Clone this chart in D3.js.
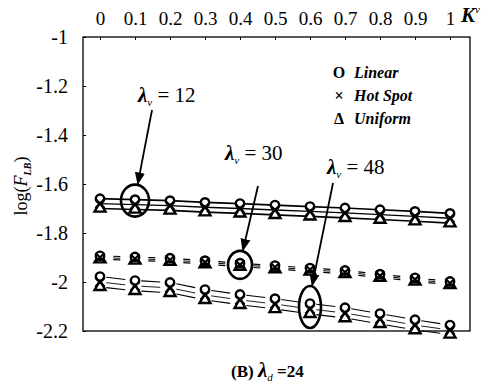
<!DOCTYPE html>
<html>
<head>
<meta charset="utf-8">
<script src="https://cdn.jsdelivr.net/npm/d3@7/dist/d3.min.js"></script>
<style>
  body { margin: 0; background: #fff; }
  svg text { font-family: "Liberation Serif", "DejaVu Serif", serif !important; fill: #000; }
</style>
</head>
<body>
<div id="chart"></div>
<script>
// K^v values (x) and tick labels
const kv = [0, 0.1, 0.2, 0.3, 0.4, 0.5, 0.6, 0.7, 0.8, 0.9, 1];
const xTickLabels = ['0', '0.1', '0.2', '0.3', '0.4', '0.5', '0.6', '0.7', '0.8', '0.9', '1'];
const yTicks = [-1, -1.2, -1.4, -1.6, -1.8, -2, -2.2];

// log(F_LB) for each lambda_v group, three heat flux types
const lam12Linear  = [-1.660, -1.664, -1.668, -1.675, -1.680, -1.686, -1.692, -1.698, -1.705, -1.712, -1.720];
const lam12HotSpot = [-1.680, -1.684, -1.688, -1.695, -1.700, -1.706, -1.712, -1.718, -1.725, -1.732, -1.740];
const lam12Uniform = [-1.700, -1.704, -1.708, -1.715, -1.720, -1.726, -1.732, -1.738, -1.745, -1.752, -1.760];

const lam30Linear  = [-1.893, -1.898, -1.903, -1.913, -1.923, -1.933, -1.943, -1.953, -1.968, -1.983, -1.998];
const lam30HotSpot = [-1.900, -1.905, -1.910, -1.920, -1.930, -1.940, -1.950, -1.960, -1.975, -1.990, -2.005];
const lam30Uniform = [-1.907, -1.912, -1.917, -1.927, -1.937, -1.947, -1.957, -1.967, -1.982, -1.997, -2.012];

const lam48Linear  = [-1.978, -1.994, -2.002, -2.031, -2.051, -2.068, -2.088, -2.105, -2.129, -2.154, -2.176];
const lam48HotSpot = [-2.000, -2.016, -2.024, -2.053, -2.073, -2.090, -2.110, -2.127, -2.151, -2.176, -2.196];
const lam48Uniform = [-2.020, -2.036, -2.044, -2.073, -2.093, -2.110, -2.130, -2.147, -2.171, -2.196, -2.214];

const width = 503, height = 390;
const box = { left: 83, right: 470, top: 37, bottom: 331 };
const serif = '"Liberation Serif", "DejaVu Serif", serif';

const svg = d3.select('#chart').append('svg')
  .attr('width', width)
  .attr('height', height);

const x = d3.scaleLinear().domain([0, 1]).range([100, 450]);
const y = d3.scaleLinear().domain([-2.2, -1]).range([box.bottom, box.top]);

// frame
svg.append('rect')
  .attr('x', box.left).attr('y', box.top)
  .attr('width', box.right - box.left).attr('height', box.bottom - box.top)
  .attr('fill', 'none').attr('stroke', '#000').attr('stroke-width', 1.3);

// top axis (ticks inward, labels above)
const topAxis = d3.axisTop(x).tickValues(kv)
  .tickFormat((d, i) => xTickLabels[i]).tickSizeInner(-3).tickSizeOuter(0).tickPadding(12);
const gTop = svg.append('g').attr('transform', `translate(0,${box.top})`).call(topAxis);
gTop.attr('font-family', serif);
gTop.select('.domain').remove();
gTop.selectAll('text').attr('font-size', 19).attr('fill', '#000').style('font-family', serif);

const kl = svg.append('text').attr('x', 461).attr('y', 22);
kl.append('tspan').attr('font-size', 21).attr('font-weight', 'bold').attr('font-style', 'italic').text('K');
kl.append('tspan').attr('font-size', 11).attr('font-style', 'italic').attr('dy', -9).text('v');

// left axis
const leftAxis = d3.axisLeft(y).tickValues(yTicks)
  .tickFormat(d => d3.format('')(d).replace('−', '-'))
  .tickSizeInner(-3).tickSizeOuter(0).tickPadding(15);
const gLeft = svg.append('g').attr('transform', `translate(${box.left},0)`).call(leftAxis);
gLeft.attr('font-family', serif);
gLeft.select('.domain').remove();
gLeft.selectAll('text').attr('font-size', 20).attr('fill', '#000').style('font-family', serif);

// y label
const yl = svg.append('text')
  .attr('transform', `translate(27,186) rotate(-90)`)
  .attr('text-anchor', 'middle').attr('font-size', 18);
yl.append('tspan').text('log(');
yl.append('tspan').attr('font-style', 'italic').text('F');
yl.append('tspan').attr('font-size', 10).attr('font-style', 'italic').attr('font-weight', 'bold').attr('dy', 4).text('LB');
yl.append('tspan').attr('dy', -4).text(')');

// connecting lines; frac gives the part of each interval that is drawn
function drawLines(vals, frac, sw) {
  for (let i = 0; i < kv.length - 1; i++) {
    const x0 = x(kv[i]), x1 = x(kv[i + 1]);
    const y0 = y(vals[i]), y1 = y(vals[i + 1]);
    svg.append('line')
      .attr('x1', x0 + (x1 - x0) * frac[0]).attr('y1', y0 + (y1 - y0) * frac[0])
      .attr('x2', x0 + (x1 - x0) * frac[1]).attr('y2', y0 + (y1 - y0) * frac[1])
      .attr('stroke', '#000').attr('stroke-width', sw);
  }
}

const groups = [
  { lin: lam12Linear, hot: lam12HotSpot, uni: lam12Uniform, frac: [0, 1], sw: 1.7 },
  { lin: lam30Linear, hot: lam30HotSpot, uni: lam30Uniform, frac: [0.38, 0.58], sw: 1.2 },
  { lin: lam48Linear, hot: lam48HotSpot, uni: lam48Uniform, frac: [0.18, 0.72], sw: 1.1 }
];

groups.forEach(g => {
  drawLines(g.lin, g.frac, g.sw);
  drawLines(g.hot, g.frac, g.sw * 0.8);
  drawLines(g.uni, g.frac, g.sw);
});

// markers
const triPath = d3.symbol().type(d3.symbolTriangle).size(52)();
groups.forEach(g => {
  svg.append('g').selectAll('path').data(kv).join('path')
    .attr('d', triPath)
    .attr('transform', (d, i) => `translate(${x(d)},${y(g.uni[i])})`)
    .attr('fill', '#fff').attr('stroke', '#000').attr('stroke-width', 2.4);
  svg.append('g').selectAll('circle').data(kv).join('circle')
    .attr('cx', d => x(d)).attr('cy', (d, i) => y(g.lin[i])).attr('r', 4.2)
    .attr('fill', '#fff').attr('stroke', '#000').attr('stroke-width', 2.4);
  svg.append('g').selectAll('path').data(kv).join('path')
    .attr('d', (d, i) => {
      const cx = x(d), cy = y(g.hot[i]), s = 4.5;
      return `M${cx - s},${cy - s}L${cx + s},${cy + s}M${cx - s},${cy + s}L${cx + s},${cy - s}`;
    })
    .attr('stroke', '#000').attr('stroke-width', 2.2);
});

// annotations: ellipses, labels and arrows
const notes = [
  { idx: 1, vals: lam12HotSpot, rx: 14, ry: 16, dy: -4, label: '12', lx: 138, ly: 102, from: [152, 110] },
  { idx: 4, vals: lam30HotSpot, rx: 12, ry: 14, dy: 0, label: '30', lx: 225, ly: 160, from: [258, 186] },
  { idx: 6, vals: lam48HotSpot, rx: 11, ry: 21, dy: -2, label: '48', lx: 327, ly: 174, from: [333, 183] }
];

svg.append('defs').append('marker')
  .attr('id', 'ah').attr('viewBox', '0 0 10 10').attr('refX', 9).attr('refY', 5)
  .attr('markerWidth', 7).attr('markerHeight', 7).attr('orient', 'auto')
  .append('path').attr('d', 'M0,1L10,5L0,9Z').attr('fill', '#000');

notes.forEach(n => {
  const cx = x(kv[n.idx]), cy = y(n.vals[n.idx]) + n.dy;
  svg.append('ellipse')
    .attr('cx', cx).attr('cy', cy).attr('rx', n.rx).attr('ry', n.ry)
    .attr('fill', 'none').attr('stroke', '#000').attr('stroke-width', 2.6);
  const ang = Math.atan2(cy - n.from[1], cx - n.from[0]);
  const tx = cx - Math.cos(ang) * (n.rx + 1);
  const ty = cy - Math.sin(ang) * (n.ry + 1);
  svg.append('line')
    .attr('x1', n.from[0]).attr('y1', n.from[1]).attr('x2', tx).attr('y2', ty)
    .attr('stroke', '#000').attr('stroke-width', 1.8).attr('marker-end', 'url(#ah)');
  const t = svg.append('text').attr('x', n.lx).attr('y', n.ly).attr('font-size', 21);
  t.append('tspan').attr('font-style', 'italic').attr('font-weight', 'bold').text('λ');
  t.append('tspan').attr('font-size', 11).attr('font-style', 'italic').attr('dy', 4).text('v');
  t.append('tspan').attr('dy', -4).text(' = ' + n.label);
});

// legend
const legendItems = [
  { sym: 'O', name: 'Linear' },
  { sym: '×', name: 'Hot Spot' },
  { sym: 'Δ', name: 'Uniform' }
];
legendItems.forEach((d, i) => {
  svg.append('text').attr('x', 339).attr('y', 78 + i * 23)
    .attr('text-anchor', 'middle').attr('font-size', 16).attr('font-weight', 'bold')
    .text(d.sym);
  svg.append('text').attr('x', 354).attr('y', 78 + i * 23)
    .attr('font-size', 16).attr('font-weight', 'bold').attr('font-style', 'italic')
    .text(d.name);
});

// caption
const cap = svg.append('text').attr('x', 231).attr('y', 377).attr('font-size', 17);
cap.append('tspan').attr('font-weight', 'bold').text('(B)  ');
cap.append('tspan').attr('font-size', 21).attr('font-style', 'italic').attr('font-weight', 'bold').text('λ');
cap.append('tspan').attr('font-size', 11).attr('font-style', 'italic').attr('dy', 4).text('d');
cap.append('tspan').attr('dy', -4).attr('font-weight', 'bold').text(' =24');
</script>
</body>
</html>
